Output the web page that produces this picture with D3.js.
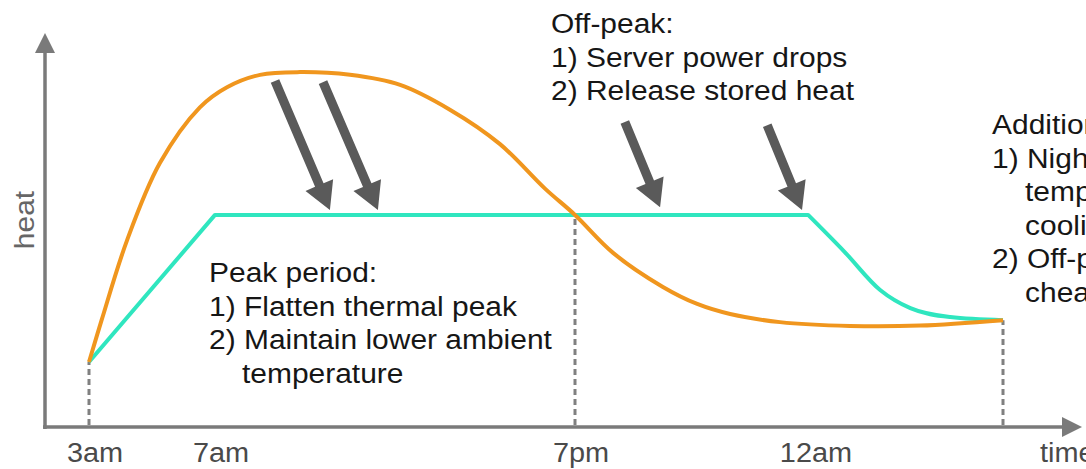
<!DOCTYPE html>
<html>
<head>
<meta charset="utf-8">
<script src="https://cdn.jsdelivr.net/npm/d3@7"></script>
<style>
  body { margin: 0; background: #fff; overflow: hidden; }
  text { font-family: "Liberation Sans", Arial, sans-serif; }
</style>
</head>
<body>
<div id="chart"></div>
<script>
// time in hours (schematic, not to scale), heat in arbitrary units 0-100
const tickHours = [3, 7, 19, 24];
const tickLabels = ["3am", "7am", "7pm", "12am"];

// orange curve: heat without storage
const serverHours = [3, 3.4, 4.21, 5.25, 6.52, 7.4, 8.5, 9.83, 11.5, 13.17, 14.83, 16.5, 18, 19, 19.81, 20.87, 21.6, 22.3, 23.36, 24.62, 25.71, 27];
const serverHeat  = [16.8, 27.6, 48.3, 68.2, 82.6, 87.8, 91.0, 91.7, 91.0, 88.4, 82.0, 73.1, 61.6, 54.8, 45.0, 36.2, 31.8, 29.2, 27.1, 26.1, 26.2, 27.6];

// teal curve: flattened heat (straight part, then smooth tail)
const flatHours = [3, 7, 23.96, 24.54, 25.09, 25.56, 26.18, 27];
const flatHeat  = [16.8, 54.8, 54.8, 45.2, 35.4, 30.7, 28.4, 27.6];
const flatBend = 2; // index where the smooth tail begins

// dashed guides
const guideHours = [3, 19, 27];
const guideHeat  = [16.8, 54.8, 27.6];

// arrows [hour, heat] tail -> tip
const arrowFrom = [[9.0, 89.4], [10.6, 89.1], [20.06, 78.8], [23.09, 78.0]];
const arrowTo   = [[10.83, 56.1], [12.43, 56.1], [20.81, 56.8], [23.83, 56.1]];

const peakNotes = [["Peak period:", 0], ["1) Flatten thermal peak", 0], ["2) Maintain lower ambient", 0], ["temperature", 1]];
const offPeakNotes = [["Off-peak:", 0], ["1) Server power drops", 0], ["2) Release stored heat", 0]];
const extraNotes = [["Additional benefits:", 0], ["1) Night-time lower", 0], ["temperature, free", 1], ["cooling", 1], ["2) Off-peak power is", 0], ["cheaper", 1]];

const W = 1086, H = 469;
const origin = { x: 45, y: 427 };
const axisTop = 33, axisRight = 1082;
const stretch = 1.07;

const svg = d3.select("#chart")
  .append("svg")
  .attr("width", W)
  .attr("height", H);

// piecewise scale: the sketch's time axis is not linear
const x = d3.scaleLinear()
  .domain([3, 7, 19, 24, 27])
  .range([89, 215, 575, 810, 1003]);
const y = d3.scaleLinear()
  .domain([0, 100])
  .range([origin.y, 40]);

const axisColor = "#7a7a7a";

// axes with arrowheads
svg.append("line")
  .attr("x1", origin.x).attr("y1", origin.y + 2)
  .attr("x2", origin.x).attr("y2", axisTop + 16)
  .attr("stroke", axisColor).attr("stroke-width", 3.5);
svg.append("path")
  .attr("d", `M${origin.x},${axisTop} L${origin.x - 10},${axisTop + 20} L${origin.x + 10},${axisTop + 20} Z`)
  .attr("fill", axisColor);
svg.append("line")
  .attr("x1", origin.x - 2).attr("y1", origin.y)
  .attr("x2", axisRight - 16).attr("y2", origin.y)
  .attr("stroke", axisColor).attr("stroke-width", 3.5);
svg.append("path")
  .attr("d", `M${axisRight},${origin.y} L${axisRight - 20},${origin.y - 10} L${axisRight - 20},${origin.y + 10} Z`)
  .attr("fill", axisColor);

// dashed guides
svg.selectAll(".guide")
  .data(guideHours)
  .enter().append("line")
  .attr("class", "guide")
  .attr("x1", d => x(d)).attr("x2", d => x(d))
  .attr("y1", origin.y - 2)
  .attr("y2", (d, i) => y(guideHeat[i]))
  .attr("stroke", "#808080")
  .attr("stroke-width", 3)
  .attr("stroke-dasharray", "6,4");

// curves
const serverPts = serverHours.map((h, i) => [h, serverHeat[i]]);
const flatPts = flatHours.map((h, i) => [h, flatHeat[i]]);

const smooth = d3.line().x(d => x(d[0])).y(d => y(d[1])).curve(d3.curveCatmullRom.alpha(0.5));
const tail = d3.line().x(d => x(d[0])).y(d => y(d[1])).curve(d3.curveMonotoneX);
const straight = d3.line().x(d => x(d[0])).y(d => y(d[1]));

svg.append("path")
  .attr("d", straight(flatPts.slice(0, flatBend + 1)) + tail(flatPts.slice(flatBend)).replace(/^M[^C]*/, ""))
  .attr("fill", "none")
  .attr("stroke", "#2fe6bf")
  .attr("stroke-width", 4)
  .attr("stroke-linejoin", "round");

svg.append("path")
  .attr("d", smooth(serverPts))
  .attr("fill", "none")
  .attr("stroke", "#f0961e")
  .attr("stroke-width", 4);

// arrows
function arrowPath(a, b) {
  const x0 = x(a[0]), y0 = y(a[1]), x1 = x(b[0]), y1 = y(b[1]);
  const len = Math.hypot(x1 - x0, y1 - y0);
  const ux = (x1 - x0) / len, uy = (y1 - y0) / len;
  const px = -uy, py = ux;
  const head = 27, hw = 15, sw = 4.6;
  const nx = x1 - ux * head, ny = y1 - uy * head;
  const p = [
    [x0 + px * sw, y0 + py * sw],
    [nx + px * sw, ny + py * sw],
    [nx + px * hw, ny + py * hw],
    [x1, y1],
    [nx - px * hw, ny - py * hw],
    [nx - px * sw, ny - py * sw],
    [x0 - px * sw, y0 - py * sw]
  ];
  return "M" + p.map(q => q.join(",")).join("L") + "Z";
}

svg.selectAll(".arrow")
  .data(arrowFrom)
  .enter().append("path")
  .attr("class", "arrow")
  .attr("d", (d, i) => arrowPath(d, arrowTo[i]))
  .attr("fill", "#5a5a5a");

// tick labels
svg.selectAll(".tick-label")
  .data(tickHours)
  .enter().append("text")
  .attr("class", "tick-label")
  .attr("transform", d => `translate(${x(d) + 6},462) scale(${stretch},1)`)
  .attr("text-anchor", "middle")
  .style("font-size", "27px")
  .attr("fill", "#4a4a4a")
  .text((d, i) => tickLabels[i]);

// axis title sits at the arrow end and runs off the edge, as in the sketch
svg.append("text")
  .attr("transform", `translate(1040,462) scale(${stretch},1)`)
  .style("font-size", "27px")
  .attr("fill", "#4a4a4a")
  .text("time");

svg.append("text")
  .attr("transform", `translate(34,220) rotate(-90) scale(${stretch},1)`)
  .attr("text-anchor", "middle")
  .style("font-size", "28px")
  .attr("fill", "#666")
  .text("heat");

// annotation blocks
function notes(lines, left, top) {
  svg.append("g").selectAll("text")
    .data(lines)
    .enter().append("text")
    .attr("transform", (d, i) => `translate(${left + d[1] * 33},${top + i * 33.5}) scale(${stretch},1)`)
    .style("font-size", "28px")
    .attr("fill", "#161616")
    .text(d => d[0]);
}

notes(peakNotes, 209, 282);
notes(offPeakNotes, 551, 33);
notes(extraNotes, 992, 134);
</script>
</body>
</html>
